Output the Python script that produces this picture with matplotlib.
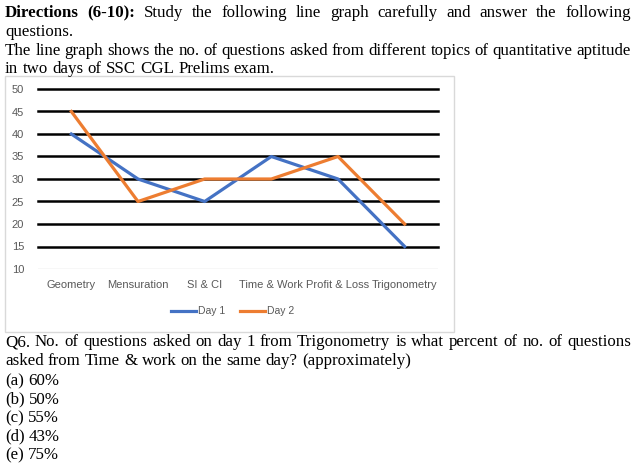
import matplotlib.pyplot as plt
from matplotlib.patches import Rectangle
from matplotlib.lines import Line2D

topics = ['Geometry', 'Mensuration', 'SI & CI', 'Time & Work', 'Profit & Loss', 'Trigonometry']
day1 = [40, 30, 25, 35, 30, 15]
day2 = [45, 25, 30, 30, 35, 20]
yticks = [10, 15, 20, 25, 30, 35, 40, 45, 50]

W, H = 636, 465
fig = plt.figure(figsize=(W / 100, H / 100), dpi=100)
renderer = fig.canvas.get_renderer()
SERIF = 'Liberation Serif'
FS = 12.2


def px(x, y):
    return x / W, 1 - y / H


def line_text(parts, y, x0=5, x1=631, justify=False):
    # parts: list of (word, weight)
    texts = []
    for word, weight in parts:
        t = fig.text(0, 0, word, fontsize=FS, family=SERIF, weight=weight,
                     va='baseline', ha='left', color='black')
        texts.append(t)
    widths = [t.get_window_extent(renderer).width for t in texts]
    a = fig.text(0, 0, 'a b', fontsize=FS, family=SERIF)
    b = fig.text(0, 0, 'ab', fontsize=FS, family=SERIF)
    space = a.get_window_extent(renderer).width - b.get_window_extent(renderer).width
    a.remove()
    b.remove()
    if justify and len(texts) > 1:
        gap = (x1 - x0 - sum(widths)) / (len(texts) - 1)
    else:
        gap = space
    x = x0
    for t, w in zip(texts, widths):
        t.set_position(px(x, y))
        x += w + gap


def words(s, weight='normal'):
    return [(w, weight) for w in s.split()]


line_text(words('Directions (6-10):', 'bold') +
          words('Study the following line graph carefully and answer the following'), 17, justify=True)
line_text(words('questions.'), 36)
line_text(words('The line graph shows the no. of questions asked from different topics of quantitative aptitude'),
          55, justify=True)
line_text(words('in two days of SSC CGL Prelims exam.'), 73)

line_text(words('Q6. No. of questions asked on day 1 from Trigonometry is what percent of no. of questions'),
          346, justify=True)
line_text(words('asked from Time & work on the same day? (approximately)'), 365)
options = ['(a) 60%', '(b) 50%', '(c) 55%', '(d) 43%', '(e) 75%']
for i, opt in enumerate(options):
    line_text(words(opt), 385 + i * 18.5)

# chart frame
fig.patches.append(Rectangle(px(5, 332), 449 / W, 256 / H, transform=fig.transFigure,
                             fill=False, edgecolor='#d9d9d9', linewidth=1))

l, b = px(38, 269)
ax = fig.add_axes([l, b, 400 / W, 180 / H])
x = range(len(topics))
ax.plot(x, day1, color='#4472C4', linewidth=2.3, label='Day 1')
ax.plot(x, day2, color='#ED7D31', linewidth=2.3, label='Day 2')
ax.set_xlim(-0.5, len(topics) - 0.5)
ax.set_ylim(10, 50)
ax.set_yticks(yticks)
for v in yticks[1:]:
    ax.axhline(v, color='black', linewidth=1.8, zorder=0, clip_on=False)
ax.axhline(10, color='#d9d9d9', linewidth=1, zorder=0)
for s in ax.spines.values():
    s.set_visible(False)
ax.set_xticks(list(x))
ax.set_xticklabels(topics)
ax.tick_params(length=0, labelsize=8, labelcolor='#595959', pad=8)
ax.tick_params(axis='y', pad=10)
for lab in ax.get_xticklabels() + ax.get_yticklabels():
    lab.set_family('Liberation Sans')

# legend
for x0, lbl, col in [(171, 'Day 1', '#4472C4'), (240, 'Day 2', '#ED7D31')]:
    fig.lines.append(Line2D([x0 / W, (x0 + 25) / W], [1 - 311 / H] * 2, transform=fig.transFigure,
                            color=col, linewidth=2.3))
    fig.text((x0 + 27) / W, 1 - 311 / H, lbl, fontsize=7.5, color='#595959',
             family='Liberation Sans', va='center', ha='left')

fig.savefig('out.png', dpi=100)
